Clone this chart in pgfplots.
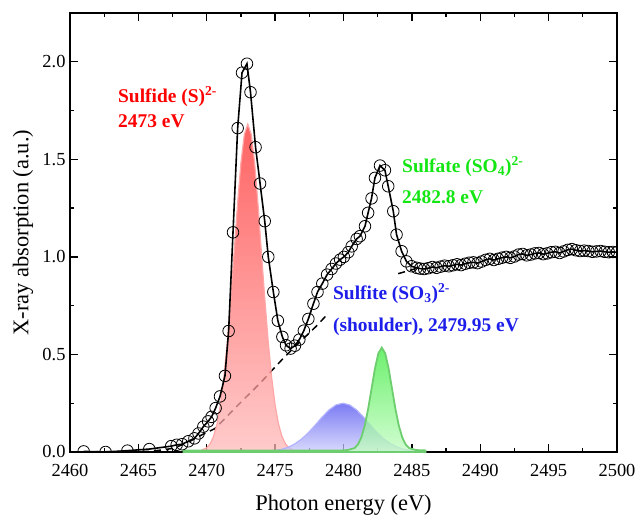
\documentclass[border=0pt]{standalone}
\usepackage{pgfplots}
\pgfplotsset{compat=1.18}
\usepackage{fontspec}
\setmainfont{Liberation Serif}
\definecolor{sred}{RGB}{255,0,0}
\definecolor{sgreen}{RGB}{20,230,20}
\definecolor{sblue}{RGB}{30,30,235}
\definecolor{redtop}{RGB}{255,45,45}
\definecolor{redbot}{RGB}{255,185,185}
\definecolor{bluetop}{RGB}{80,80,240}
\definecolor{bluebot}{RGB}{205,205,252}
\definecolor{greentop}{RGB}{60,235,60}
\definecolor{greenbot}{RGB}{195,252,195}
\definecolor{greenband}{RGB}{110,205,110}
\begin{document}
\begin{tikzpicture}
\begin{axis}[
  name=ax,
  scale only axis, width=547bp, height=439bp,
  xmin=2460, xmax=2500, ymin=0, ymax=2.25,
  xtick={2460,2465,...,2500},
  ytick={0,0.5,1,1.5,2},
  minor x tick num=1, minor y tick num=1,
  tick align=inside, tick pos=both,
  major tick length=8bp, minor tick length=4.5bp,
  every tick/.append style={black, line width=1.3pt},
  axis line style={line width=1.6pt},
  /pgf/number format/assume math mode=true,
  xticklabel style={/pgf/number format/set thousands separator={}, yshift=-8.5bp},
  yticklabel style={/pgf/number format/fixed, /pgf/number format/fixed zerofill, /pgf/number format/precision=1, xshift=-1bp},
  tick label style={font=\fontsize{18.5}{20}\selectfont},
  xlabel={Photon energy (eV)}, ylabel={X-ray absorption (a.u.)},
  xlabel style={at={(axis description cs:0.5,-0.122)}, anchor=center, font=\fontsize{22.5}{24}\selectfont},
  ylabel style={at={(axis description cs:-0.086,0.5)}, rotate=0, anchor=center, font=\fontsize{22.5}{24}\selectfont},
  clip marker paths=true,
]
% background (arctan step)
\addplot[black, line width=1.5pt, dash pattern=on 7bp off 5bp] coordinates {
(2460,0) (2466,0.004) (2467.5,0.018) (2468.5,0.045) (2469.7,0.09) (2470.6,0.12) (2471,0.148)
(2472,0.22) (2473,0.29) (2474,0.36) (2474.7,0.413) (2475.5,0.473) (2476.6,0.55) (2478,0.644) (2478.8,0.704)};
\addplot[black, line width=1.5pt, dash pattern=on 7bp off 5bp] coordinates {
(2484,0.914) (2484.8,0.93) (2485.3,0.94)};
% sulfide
\addplot[draw=red!35, line width=1.2pt, fill opacity=0.74, top color=redtop, bottom color=redbot] coordinates {
(2469.0,0.001) (2469.5,0.005) (2470.0,0.022) (2470.25,0.042) (2470.5,0.08) (2470.75,0.142)
(2471.0,0.24) (2471.25,0.38) (2471.5,0.56) (2471.75,0.78) (2472.0,1.019) (2472.25,1.268)
(2472.5,1.483) (2472.75,1.628) (2473.0,1.680) (2473.25,1.628) (2473.5,1.483) (2473.75,1.268)
(2474.0,1.019) (2474.25,0.78) (2474.5,0.56) (2474.75,0.38) (2475.0,0.24) (2475.25,0.142)
(2475.5,0.08) (2475.75,0.042) (2476.0,0.022) (2476.5,0.005) (2477.0,0.001)} \closedcycle;
% sulfite
\addplot[draw=blue!30, line width=1.2pt, fill opacity=0.75, top color=bluetop, bottom color=bluebot] coordinates {
(2468.3,0.0) (2474.0,0.0013) (2474.45,0.003) (2474.95,0.0065) (2475.45,0.013) (2475.95,0.024)
(2476.45,0.042) (2476.95,0.067) (2477.45,0.100) (2477.95,0.139) (2478.45,0.180) (2478.95,0.216)
(2479.45,0.241) (2479.95,0.250) (2480.45,0.241) (2480.95,0.216) (2481.45,0.180) (2481.95,0.139)
(2482.45,0.100) (2482.95,0.067) (2483.45,0.042) (2483.95,0.024) (2484.45,0.013) (2484.95,0.0065)
(2485.45,0.003) (2486.0,0.001)} \closedcycle;
% sulfate
\addplot[draw=greenband, line width=1.8pt, fill opacity=0.75, top color=greentop, bottom color=greenbot] coordinates {
(2468.3,0.008) (2479.8,0.008) (2480.3,0.01) (2480.8,0.02) (2481.05,0.038) (2481.3,0.074)
(2481.55,0.134) (2481.8,0.220) (2482.05,0.324) (2482.3,0.428) (2482.55,0.506) (2482.8,0.535)
(2483.05,0.506) (2483.3,0.428) (2483.55,0.324) (2483.8,0.220) (2484.05,0.134) (2484.3,0.074)
(2484.55,0.038) (2484.8,0.02) (2485.3,0.01) (2486.0,0.008)} \closedcycle;
% measured data and fit
\addplot[black, line width=1.6pt, mark=o, mark size=5.8bp,
  mark options={solid, fill=white, draw=black, line width=0.8pt}] coordinates {
(2461.0,0.003) (2462.6,0.0) (2464.2,0.007) (2465.8,0.015) (2467.4,0.03) (2467.8,0.037)
(2468.2,0.04) (2468.65,0.055) (2469.1,0.07) (2469.4,0.095) (2469.75,0.13) (2470.1,0.157)
(2470.35,0.18) (2470.65,0.225) (2470.97,0.285) (2471.33,0.39) (2471.6,0.62) (2471.92,1.126)
(2472.26,1.66) (2472.58,1.944) (2472.94,1.99) (2473.2,1.844) (2473.57,1.562) (2473.9,1.376)
(2474.24,1.183) (2474.5,1.0) (2474.87,0.82) (2475.2,0.673) (2475.53,0.59) (2475.8,0.547)
(2476.13,0.53) (2476.45,0.545) (2476.77,0.576) (2477.1,0.622) (2477.43,0.682) (2477.8,0.76)
(2478.1,0.82) (2478.45,0.863) (2478.8,0.909) (2479.13,0.938) (2479.45,0.966) (2479.75,0.986)
(2480.03,1.0) (2480.35,1.024) (2480.6,1.054) (2480.96,1.092) (2481.2,1.106) (2481.57,1.157)
(2481.8,1.226) (2482.05,1.30) (2482.3,1.405) (2482.67,1.468) (2483.03,1.444) (2483.27,1.362)
(2483.64,1.234) (2483.88,1.114) (2484.25,1.029) (2484.6,0.977) (2484.98,0.952) (2485.35,0.944)
(2485.6,0.940) (2485.9,0.938) (2486.2,0.942) (2486.5,0.948) (2486.8,0.944) (2487.1,0.950)
(2487.4,0.955) (2487.7,0.952) (2488.0,0.957) (2488.3,0.962) (2488.6,0.958) (2488.9,0.965)
(2489.2,0.970) (2489.5,0.972) (2489.8,0.968) (2490.1,0.976) (2490.4,0.985) (2490.7,0.990)
(2491.0,0.984) (2491.3,0.990) (2491.6,0.996) (2491.9,1.000) (2492.2,0.995) (2492.5,1.002)
(2492.8,1.012) (2493.1,1.015) (2493.4,1.008) (2493.7,1.012) (2494.0,1.018) (2494.3,1.020)
(2494.6,1.014) (2494.9,1.018) (2495.2,1.024) (2495.5,1.026) (2495.8,1.020) (2496.1,1.028)
(2496.4,1.036) (2496.7,1.040) (2497.0,1.034) (2497.3,1.030) (2497.6,1.032) (2497.9,1.030)
(2498.2,1.026) (2498.5,1.028) (2498.8,1.030) (2499.1,1.026) (2499.4,1.024) (2499.7,1.025)
(2500.0,1.024)};
% labels
\node[anchor=base west, inner sep=0pt, text=sred, font=\bfseries\fontsize{19.5}{22}\selectfont] at (axis cs:2463.51,1.79) {Sulfide (S)\textsuperscript{2-}};
\node[anchor=base west, inner sep=0pt, text=sred, font=\bfseries\fontsize{19.5}{22}\selectfont] at (axis cs:2463.51,1.665) {2473 eV};
\node[anchor=base west, inner sep=0pt, text=sgreen, font=\bfseries\fontsize{19.5}{22}\selectfont] at (axis cs:2484.28,1.431) {Sulfate (SO\textsubscript{4})\textsuperscript{2-}};
\node[anchor=base west, inner sep=0pt, text=sgreen, font=\bfseries\fontsize{19.5}{22}\selectfont] at (axis cs:2484.28,1.273) {2482.8 eV};
\node[anchor=base west, inner sep=0pt, text=sblue, font=\bfseries\fontsize{19.5}{22}\selectfont] at (axis cs:2479.23,0.781) {Sulfite (SO\textsubscript{3})\textsuperscript{2-}};
\node[anchor=base west, inner sep=0pt, text=sblue, font=\bfseries\fontsize{19.5}{22}\selectfont] at (axis cs:2479.23,0.618) {(shoulder), 2479.95 eV};
\end{axis}
\pgfresetboundingbox
\path ([xshift=-70bp,yshift=-65bp]ax.south west) rectangle ([xshift=19bp,yshift=13bp]ax.north east);
\end{tikzpicture}
\end{document}
